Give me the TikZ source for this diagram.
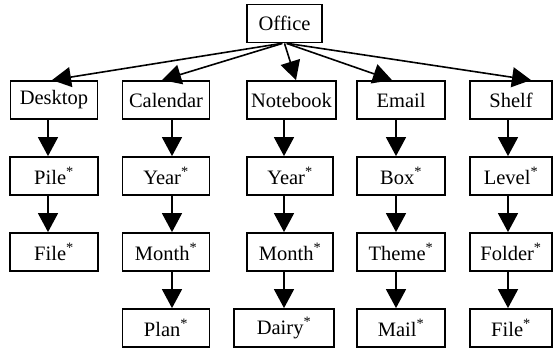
\documentclass[tikz,border=0pt]{standalone}
\usepackage{fontspec}
\setmainfont{Liberation Serif}
\usetikzlibrary{arrows.meta}
\tikzset{
  box/.style={draw=black, line width=1.8pt, minimum height=38pt, inner sep=2pt,
    font=\fontsize{20.5}{24}\selectfont},
  link/.style={line width=1.6pt, draw=black, -{Triangle[length=19pt,width=20pt]}},
}
\newcommand{\st}{\textsuperscript{*}}

\begin{document}
\begin{tikzpicture}[x=1pt,y=-1pt]
\useasboundingbox (0,0) rectangle (554,349);
\node[box, minimum width=75pt] (office) at (284.5,23.5) {Office};
% first level
\node[box, minimum width=87pt] (desk) at (54,100) {Desktop};
\node[box, minimum width=87pt] (cal) at (166,100) {Calendar};
\node[box, minimum width=89pt] (note) at (291.5,100) {Notebook};
\node[box, minimum width=88pt] (email) at (401,100) {Email};
\node[box, minimum width=82pt] (shelf) at (511,100) {Shelf};
% second level
\node[box, minimum width=88pt] (pile) at (54,176) {Pile\st};
\node[box, minimum width=87pt] (calyear) at (166,176) {Year\st};
\node[box, minimum width=86pt] (noteyear) at (290,176) {Year\st};
\node[box, minimum width=88pt] (mbox) at (401,176) {Box\st};
\node[box, minimum width=82pt] (level) at (511,176) {Level\st};
% third level
\node[box, minimum width=88pt] (deskfile) at (54,252) {File\st};
\node[box, minimum width=87pt] (calmonth) at (166,252) {Month\st};
\node[box, minimum width=86pt] (notemonth) at (290,252) {Month\st};
\node[box, minimum width=88pt] (theme) at (401,252) {Theme\st};
\node[box, minimum width=82pt] (folder) at (511,252) {Folder\st};
% fourth level
\node[box, minimum width=87pt] (plan) at (166,328) {Plan\st};
\node[box, minimum width=100pt] (dairy) at (284,328) {Dairy\st};
\node[box, minimum width=88pt] (mail) at (401,328) {Mail\st};
\node[box, minimum width=82pt] (shelffile) at (511,328) {File\st};
% from the root
\draw[link] ([xshift=-3pt]office.south) -- ([xshift=-2pt]desk.north);
\draw[link] ([xshift=-2pt]office.south) -- ([xshift=-4pt]cal.north);
\draw[link] (office.south) -- ([xshift=4.5pt]note.north);
\draw[link] ([xshift=2pt]office.south) -- ([xshift=-9pt]email.north);
\draw[link] ([xshift=3pt]office.south) -- ([xshift=20pt]shelf.north);
% columns
\draw[link] ([xshift=-6pt]desk.south) -- ([xshift=-6pt]pile.north);
\draw[link] ([xshift=-6pt]pile.south) -- ([xshift=-6pt]deskfile.north);
\draw[link] ([xshift=6pt]cal.south) -- ([xshift=6pt]calyear.north);
\draw[link] ([xshift=6pt]calyear.south) -- ([xshift=6pt]calmonth.north);
\draw[link] ([xshift=6pt]calmonth.south) -- ([xshift=6pt]plan.north);
\draw[link] ([xshift=-7.5pt]note.south) -- ([xshift=-6pt]noteyear.north);
\draw[link] ([xshift=-6pt]noteyear.south) -- ([xshift=-6pt]notemonth.north);
\draw[link] ([xshift=-6pt]notemonth.south) -- (dairy.north);
\draw[link] ([xshift=-5pt]email.south) -- ([xshift=-5pt]mbox.north);
\draw[link] ([xshift=-5pt]mbox.south) -- ([xshift=-5pt]theme.north);
\draw[link] ([xshift=-5pt]theme.south) -- ([xshift=-5pt]mail.north);
\draw[link] ([xshift=-3pt]shelf.south) -- ([xshift=-3pt]level.north);
\draw[link] ([xshift=-3pt]level.south) -- ([xshift=-3pt]folder.north);
\draw[link] ([xshift=-3pt]folder.south) -- ([xshift=-3pt]shelffile.north);
\end{tikzpicture}
\end{document}
